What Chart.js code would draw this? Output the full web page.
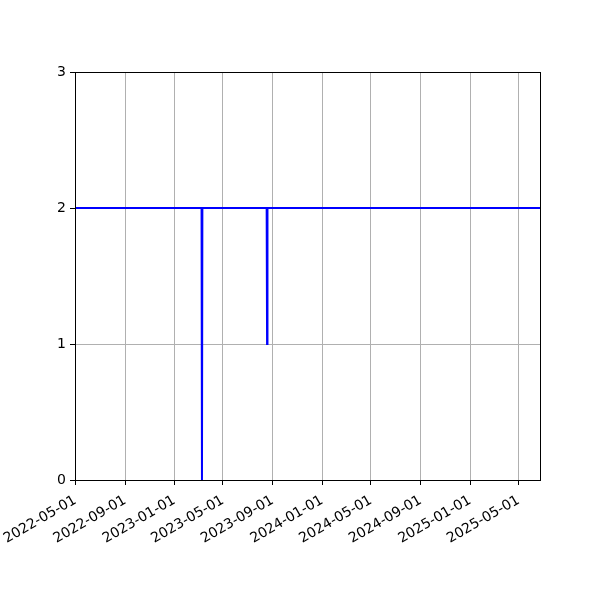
<!DOCTYPE html>
<html>
<head>
<meta charset="utf-8">
<script src="https://cdn.jsdelivr.net/npm/chart.js@4"></script>
<style>
  body { margin: 0; background: #fff; }
  canvas { display: block; }
</style>
</head>
<body>
<canvas id="chart" width="600" height="600"></canvas>
<script>
// series: dates and counts
var dates = [
    '2022-04-30', '2023-03-09', '2023-03-10', '2023-03-11',
    '2023-08-17', '2023-08-18', '2023-08-19', '2025-06-23'
];
var counts = [2, 2, 0, 2, 2, 1, 2, 2];

// x tick labels (every 4 months)
var tickDates = [
    '2022-05-01', '2022-09-01', '2023-01-01', '2023-05-01', '2023-09-01',
    '2024-01-01', '2024-05-01', '2024-09-01', '2025-01-01', '2025-05-01'
];
var yTicks = [0, 1, 2, 3];

function toDay(s) {
    return Date.parse(s + 'T00:00:00Z') / 86400000;
}

var points = dates.map(function (d, i) {
    return { x: toDay(d), y: counts[i] };
});

// matplotlib style box around the plot area
var frame = {
    id: 'frame',
    afterDraw: function (chart) {
        var a = chart.chartArea, c = chart.ctx;
        c.save();
        c.strokeStyle = '#000';
        c.lineWidth = 1;
        c.strokeRect(Math.round(a.left) + 0.5, Math.round(a.top) + 0.5,
            Math.round(a.right - a.left), Math.round(a.bottom - a.top));
        c.restore();
    }
};

var font = { family: 'DejaVu Sans', size: 14 };

var ctx = document.getElementById('chart').getContext('2d');
var chart = new Chart(ctx, {
    type: 'line',
    data: {
        datasets: [{
            data: points,
            borderColor: '#0000ff',
            borderWidth: 2,
            pointRadius: 0,
            tension: 0,
            fill: false
        }]
    },
    options: {
        responsive: false,
        animation: false,
        devicePixelRatio: 1,
        layout: { padding: { top: 72, right: 60, left: 0, bottom: 0 } },
        plugins: { legend: { display: false }, tooltip: { enabled: false } },
        scales: {
            x: {
                type: 'linear',
                min: toDay(dates[0]),
                max: toDay(dates[dates.length - 1]),
                afterBuildTicks: function (s) {
                    s.ticks = tickDates.map(function (d) { return { value: toDay(d) }; });
                },
                afterFit: function (s) {
                    s.height = 120;
                    s.paddingLeft = 0;
                    s.paddingRight = 0;
                },
                grid: { color: '#b0b0b0', lineWidth: 1, tickLength: 5, tickColor: '#000' },
                border: { display: false },
                ticks: {
                    autoSkip: false,
                    maxRotation: 30,
                    minRotation: 30,
                    padding: 7,
                    color: '#000',
                    font: font,
                    callback: function (v) {
                        var i = tickDates.map(toDay).indexOf(v);
                        return i >= 0 ? tickDates[i] : '';
                    }
                }
            },
            y: {
                min: yTicks[0],
                max: yTicks[yTicks.length - 1],
                afterBuildTicks: function (s) {
                    s.ticks = yTicks.map(function (v) { return { value: v }; });
                },
                afterFit: function (s) {
                    s.width = 75;
                    s.paddingTop = 0;
                    s.paddingBottom = 0;
                },
                grid: { color: '#b0b0b0', lineWidth: 1, tickLength: 5, tickColor: '#000' },
                border: { display: false },
                ticks: { padding: 4, color: '#000', font: font }
            }
        }
    },
    plugins: [frame]
});
</script>
</body>
</html>
